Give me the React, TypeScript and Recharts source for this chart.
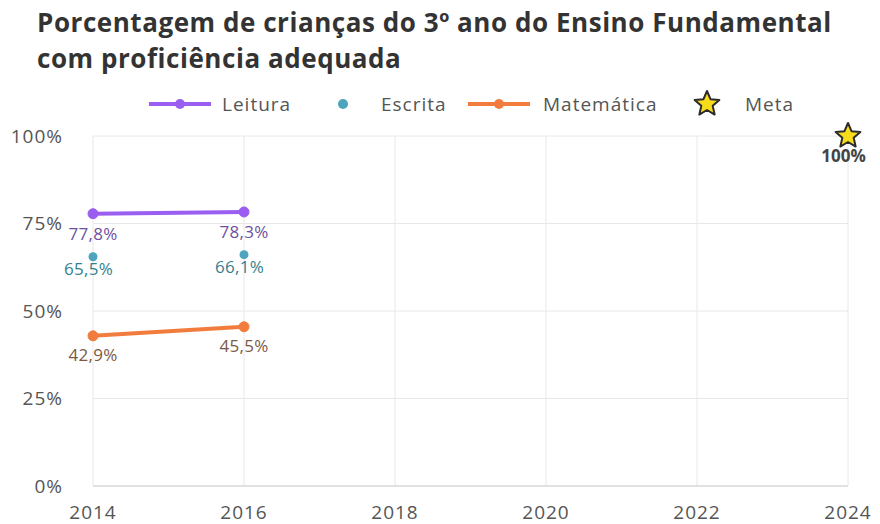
import React from "react";
import {
  CartesianGrid,
  ComposedChart,
  LabelList,
  Line,
  Scatter,
  XAxis,
  YAxis,
} from "recharts";

const years = [2014, 2016];
const leitura = [77.8, 78.3];
const escrita = [65.5, 66.1];
const matematica = [42.9, 45.5];
const metaYear = 2024;
const metaValue = 100;
const xTicks = [2014, 2016, 2018, 2020, 2022, 2024];
const yTicks = [0, 25, 50, 75, 100];

const PURPLE = "#9a5ef0";
const TEAL = "#4ca4bd";
const ORANGE = "#f27c3e";

const rows = years.map((year, i) => ({
  year,
  leitura: leitura[i],
  matematica: matematica[i],
}));
const escritaPoints = years.map((year, i) => ({ year, value: escrita[i] }));
const metaPoints = [{ year: metaYear, value: metaValue }];

const fmt = (v: number) => `${v.toFixed(1).replace(".", ",")}%`;

function makeLabel(color: string, dy: number) {
  return (props: any) => {
    const { x, y, value } = props;
    if (value == null) return null;
    return (
      <text
        x={x}
        y={y + dy}
        textAnchor="middle"
        fill={color}
        fontSize={17}
        fontFamily="'Open Sans', sans-serif"
        style={{ letterSpacing: 0.3 }}
      >
        {fmt(value)}
      </text>
    );
  };
}

function starPoints(cx: number, cy: number, R: number, r: number) {
  const pts: string[] = [];
  for (let i = 0; i < 10; i++) {
    const rad = i % 2 === 0 ? R : r;
    const a = -Math.PI / 2 + (i * Math.PI) / 5;
    pts.push(`${cx + rad * Math.cos(a)},${cy + rad * Math.sin(a)}`);
  }
  return pts.join(" ");
}

function Star(props: any) {
  const { cx, cy } = props;
  return (
    <polygon
      points={starPoints(cx, cy, 13, 6)}
      fill="#f7dc1c"
      stroke="#2b2b2b"
      strokeWidth={2}
      strokeLinejoin="round"
    />
  );
}

function LegendLine({ color, left }: { color: string; left: number }) {
  return (
    <svg width={62} height={16} style={{ position: "absolute", left, top: 5 }}>
      <line x1={0} y1={8} x2={62} y2={8} stroke={color} strokeWidth={4} />
      <circle cx={31} cy={8} r={5} fill={color} />
    </svg>
  );
}

const legendText = (left: number): React.CSSProperties => ({
  position: "absolute",
  left,
  top: 0,
  lineHeight: "26px",
  color: "#555",
  fontSize: 19,
  letterSpacing: 1,
  whiteSpace: "nowrap",
});

const tickStyle = { fill: "#555", fontSize: 19, letterSpacing: 1 };

export default function App() {
  return (
    <div
      style={{
        position: "absolute",
        left: 0,
        top: 0,
        width: 880,
        height: 524,
        background: "#fff",
        fontFamily: "'Open Sans', sans-serif",
      }}
    >
      <div
        style={{
          position: "absolute",
          left: 37,
          top: 4,
          fontFamily: "'Open Sans', sans-serif",
          fontWeight: 700,
          fontSize: 26,
          letterSpacing: 0.55,
          lineHeight: "36px",
          color: "#333",
          whiteSpace: "nowrap",
        }}
      >
        Porcentagem de crianças do 3º ano do Ensino Fundamental
        <br />
        com proficiência adequada
      </div>
      <div
        style={{ position: "absolute", left: 0, top: 91, width: 880, height: 26 }}
      >
        <LegendLine color={PURPLE} left={149} />
        <span style={legendText(222)}>Leitura</span>
        <svg width={20} height={16} style={{ position: "absolute", left: 333, top: 5 }}>
          <circle cx={10} cy={8} r={5} fill={TEAL} />
        </svg>
        <span style={legendText(381)}>Escrita</span>
        <LegendLine color={ORANGE} left={468} />
        <span style={legendText(543)}>Matemática</span>
        <svg width={32} height={30} style={{ position: "absolute", left: 691, top: -2 }}>
          <Star cx={16} cy={15} />
        </svg>
        <span style={legendText(745)}>Meta</span>
      </div>
      <div style={{ position: "absolute", left: 0, top: 0 }}>
        <ComposedChart
          width={880}
          height={524}
          data={rows}
          margin={{ top: 136, right: 32, bottom: 8, left: 0 }}
        >
          <CartesianGrid stroke="#e8e8e8" strokeWidth={1} />
          <XAxis
            dataKey="year"
            type="number"
            domain={[2014, 2024]}
            ticks={xTicks}
            height={30}
            tickLine={false}
            axisLine={{ stroke: "#cfcfcf" }}
            tick={tickStyle}
            tickMargin={14}
          />
          <YAxis
            type="number"
            domain={[0, 100]}
            ticks={yTicks}
            width={93}
            tickLine={false}
            axisLine={false}
            tickFormatter={(v) => `${v}%`}
            tick={tickStyle}
            tickMargin={24}
          />
          <Line
            dataKey="leitura"
            stroke={PURPLE}
            strokeWidth={4}
            dot={{ r: 5, fill: PURPLE, stroke: PURPLE, strokeWidth: 1 }}
            isAnimationActive={false}
          >
            <LabelList dataKey="leitura" content={makeLabel("#6d51a0", 26)} />
          </Line>
          <Line
            dataKey="matematica"
            stroke={ORANGE}
            strokeWidth={4}
            dot={{ r: 5, fill: ORANGE, stroke: ORANGE, strokeWidth: 1 }}
            isAnimationActive={false}
          >
            <LabelList dataKey="matematica" content={makeLabel("#7b5a45", 25)} />
          </Line>
          <Scatter
            data={escritaPoints}
            dataKey="value"
            fill={TEAL}
            shape={(p: any) => <circle cx={p.cx} cy={p.cy} r={4.5} fill={TEAL} />}
            isAnimationActive={false}
          >
            <LabelList dataKey="value" content={makeLabel("#347f8f", 23)} />
          </Scatter>
          <Scatter
            data={metaPoints}
            dataKey="value"
            shape={Star}
            isAnimationActive={false}
          >
            <LabelList
              dataKey="value"
              content={(p: any) => (
                <text
                  x={p.x}
                  y={p.y + 31}
                  textAnchor="middle"
                  fill="#444"
                  fontSize={17}
                  fontWeight={700}
                >
                  {`${p.value}%`}
                </text>
              )}
            />
          </Scatter>
        </ComposedChart>
      </div>
    </div>
  );
}
